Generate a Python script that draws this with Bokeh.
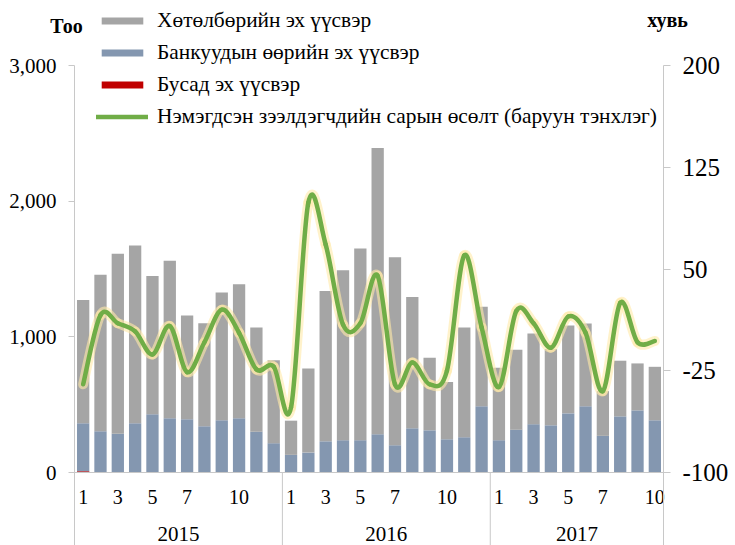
from bokeh.plotting import figure
from bokeh.models import (Range1d, LinearAxis, FixedTicker, NumeralTickFormatter,
                          CustomJSTickFormatter, Legend, LegendItem, Label,
                          ColumnDataSource)
from bokeh.core.properties import value
from bokeh.embed import file_html
from bokeh.resources import INLINE

# ---------------- data ----------------
years = ["2015", "2016", "2017"]
months_per_year = [12, 12, 10]
month_labels_shown = ["1", "3", "5", "7", "10"]

program = [909, 1154, 1328, 1311, 1020, 1161, 765, 759, 941, 987, 768, 612,
           252, 620, 1108, 1252, 1414, 2110, 1385, 968, 535, 422, 809, 733,
           534, 588, 669, 563, 647, 610, 330, 410, 346, 394]
bank = [353, 301, 282, 363, 429, 400, 392, 341, 385, 400, 301, 216,
        130, 147, 230, 238, 238, 282, 201, 326, 311, 245, 260, 488,
        238, 316, 356, 348, 436, 488, 270, 414, 458, 385]
other = [10, 3, 3, 0, 0, 0, 0, 0, 0, 0, 0, 0,
         0, 0, 0, 0, 0, 0, 0, 0, 0, 0, 0, 0,
         0, 0, 0, 0, 0, 0, 0, 0, 0, 0]
growth = [-35, 16, 10, 4, -13, 8, -26, -4, 20, 3, -24, -22,
          -52, 99, 68, 9, 10, 45, -35, -19, -35, -25, 60, 7,
          -37, 19, 10, -8, 15, 3, -40, 25, -4, -3]

series_names = ["Хөтөлбөрийн эх үүсвэр", "Банкуудын өөрийн эх үүсвэр",
                "Бусад эх үүсвэр",
                "Нэмэгдсэн зээлдэгчдийн сарын өсөлт (баруун тэнхлэг)"]
left_ticks = [0, 1000, 2000, 3000]
right_ticks = [-100, -25, 50, 125, 200]

# ---------------- styling / layout (pixels) ----------------
FONT = "'Liberation Serif', 'Times New Roman', serif"
GRAY = "#a5a5a5"
BLUE = "#8497b0"
RED = "#c00000"
GREEN = "#70ad47"
AXIS = "#c8c8c8"

W, H = 735, 545
AX_L, AX_R = 74, 663        # plot area left/right edge
AX_T, AX_B = 65, 472        # plot area top / value-axis zero line

n = len(program)
xs = list(range(n))

px_per_x = (AX_R - AX_L) / n
x_start = -0.5 - AX_L / px_per_x
x_end = n - 0.5 + (W - AX_R) / px_per_x
L_MAX, R_MIN, R_MAX = left_ticks[-1], right_ticks[0], right_ticks[-1]
l_pp = L_MAX / (AX_B - AX_T)
r_pp = (R_MAX - R_MIN) / (AX_B - AX_T)
l_start, l_end = -(H - AX_B) * l_pp, L_MAX + AX_T * l_pp
r_start, r_end = R_MIN - (H - AX_B) * r_pp, R_MAX + AX_T * r_pp

def ly(py):
    """page pixel row -> left-axis data value"""
    return (AX_B - py) * l_pp

def lx(px):
    """page pixel column -> x data value"""
    return -0.5 + (px - AX_L) / px_per_x

source = ColumnDataSource(dict(x=xs, program=program, bank=bank, other=other))

p = figure(width=W, height=H, output_backend="svg", toolbar_location=None,
           x_range=Range1d(x_start, x_end), y_range=Range1d(l_start, l_end),
           min_border_left=0, min_border_right=0, min_border_top=0,
           min_border_bottom=0)
p.outline_line_color = None
p.xgrid.visible = False
p.ygrid.visible = False
p.background_fill_color = "white"

bars = p.vbar_stack(["other", "bank", "program"], x="x", width=0.71,
                    color=[RED, BLUE, GRAY], source=source, line_color=None)

# right axis
p.extra_y_ranges = {"right": Range1d(r_start, r_end)}
raxis = LinearAxis(y_range_name="right", ticker=FixedTicker(ticks=right_ticks),
                   formatter=CustomJSTickFormatter(code="return tick.toString()"),
                   fixed_location=n - 0.5, bounds=(r_start, R_MAX))
p.add_layout(raxis, "right")

# smoothed line via bezier segments computed from the data points
x0, y0, x1, y1, cx0, cy0, cx1, cy1 = [], [], [], [], [], [], [], []
for i in range(n - 1):
    pr = i - 1 if i > 0 else i
    nx = i + 2 if i + 2 < n else i + 1
    x0.append(xs[i]); y0.append(growth[i])
    x1.append(xs[i + 1]); y1.append(growth[i + 1])
    cx0.append(xs[i] + (xs[i + 1] - xs[pr]) / 6)
    cy0.append(growth[i] + (growth[i + 1] - growth[pr]) / 6)
    cx1.append(xs[i + 1] - (xs[nx] - xs[i]) / 6)
    cy1.append(growth[i + 1] - (growth[nx] - growth[i]) / 6)
bsrc = ColumnDataSource(dict(x0=x0, y0=y0, x1=x1, y1=y1, cx0=cx0, cy0=cy0, cx1=cx1, cy1=cy1))
p.bezier(x0="x0", y0="y0", x1="x1", y1="y1", cx0="cx0", cy0="cy0", cx1="cx1", cy1="cy1",
         source=bsrc, y_range_name="right", line_color="#ffe9a8", line_alpha=0.6,
         line_width=10, line_cap="round", line_join="round")
green_line = p.bezier(x0="x0", y0="y0", x1="x1", y1="y1", cx0="cx0", cy0="cy0", cx1="cx1", cy1="cy1",
                      source=bsrc, y_range_name="right", line_color=GREEN,
                      line_width=4.5, line_cap="round", line_join="round")

# left axis
la = p.yaxis[0]
la.ticker = FixedTicker(ticks=left_ticks)
la.formatter = NumeralTickFormatter(format="0,0")
la.fixed_location = -0.5
la.bounds = (l_start, L_MAX)
for ax, fs, out in ((la, "21px", 6), (raxis, "25px", 7)):
    ax.major_label_text_font = FONT
    ax.major_label_text_font_size = fs
    ax.major_label_text_color = "black"
    ax.axis_line_color = AXIS
    ax.major_tick_line_color = AXIS
    ax.major_tick_in = 0
    ax.major_tick_out = out
    ax.minor_tick_line_color = None
    ax.major_label_standoff = 12

# bottom (category) axis: month labels
label_x, bounds, year_x = [], [], []
start = 0
overrides = {}
for yr, cnt in zip(years, months_per_year):
    for m in month_labels_shown:
        if int(m) <= cnt:
            idx = start + int(m) - 1
            label_x.append(idx)
            overrides[idx] = m
    year_x.append(start + (cnt - 1) / 2)
    start += cnt
    if start < n:
        bounds.append(start - 0.5)

xa = p.xaxis[0]
xa.fixed_location = 0
xa.bounds = (-0.5, n - 0.5)
xa.ticker = FixedTicker(ticks=label_x)
xa.major_label_overrides = overrides
xa.major_label_text_font = FONT
xa.major_label_text_font_size = "20px"
xa.major_label_text_color = "black"
xa.major_tick_in = 0
xa.major_tick_out = 0
xa.major_tick_line_color = None
xa.minor_tick_line_color = None
xa.axis_line_color = AXIS
xa.major_label_standoff = 17

# year group labels and separators
p.text(x=year_x, y=[ly(533)] * len(year_x), text=years, text_align="center",
       text_baseline="alphabetic", text_font=value(FONT), text_font_size="21px",
       text_color="black")
p.segment(x0=bounds, y0=[0] * len(bounds), x1=bounds, y1=[l_start] * len(bounds),
          line_color=AXIS, line_width=1)

# axis titles
p.add_layout(Label(x=lx(66), y=ly(25), text="Тоо", text_align="center",
                   text_baseline="alphabetic", text_font=FONT, text_font_size="20px",
                   text_font_style="bold", text_color="black"))
p.add_layout(Label(x=lx(667), y=ly(19), text="хувь", text_align="center",
                   text_baseline="alphabetic", text_font=FONT, text_font_size="20px",
                   text_font_style="bold", text_color="black"))

# legend
items = [LegendItem(label=series_names[0], renderers=[bars[2]]),
         LegendItem(label=series_names[1], renderers=[bars[1]]),
         LegendItem(label=series_names[2], renderers=[bars[0]]),
         LegendItem(label=series_names[3], renderers=[green_line])]
legend = Legend(items=items, location=(96, 416), orientation="vertical",
                label_text_font=FONT, label_text_font_size="21.4px",
                label_text_color="black", glyph_width=52, glyph_height=9,
                label_height=23, spacing=7, padding=0, margin=0,
                label_standoff=9, border_line_alpha=0, background_fill_alpha=0)
p.add_layout(legend, "center")

open("out.html", "w").write(file_html(p, INLINE))
